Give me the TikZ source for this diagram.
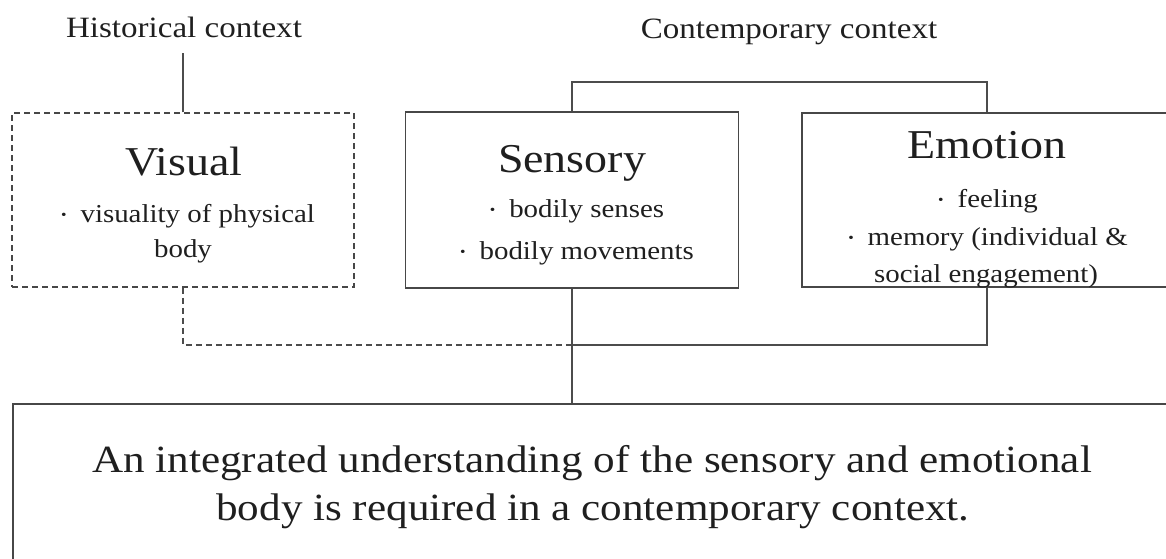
\documentclass[tikz,border=0pt]{standalone}
\usepackage{fontspec}
\setmainfont{Liberation Serif}[FakeStretch=1.12]
\newcommand\bul{\raisebox{0.22ex}{\fontsize{14}{14}\selectfont\textbullet}\hspace{14pt}}
\begin{document}
\begin{tikzpicture}[x=1pt,y=-1pt,
  box/.style={draw=black!72, line width=1.8pt, inner sep=0pt},
  dbox/.style={box, line width=1.5pt, dash pattern=on 6pt off 4pt},
  conn/.style={draw=black!70, line width=1.7pt},
  dconn/.style={conn, line width=1.4pt, dash pattern=on 6pt off 4pt},
  txt/.style={inner sep=0pt, text=black!88, anchor=base},
  ctx/.style={txt, font=\fontsize{29.5}{32}\selectfont},
  ttl/.style={txt, font=\fontsize{41}{44}\selectfont},
  itm/.style={txt, font=\fontsize{25.8}{28}\selectfont},
  big/.style={txt, font=\fontsize{38.5}{42}\selectfont}]
\useasboundingbox (0,0) rectangle (1166,558);
% context labels
\node[ctx, inner ysep=16pt] (hist) at (184,37) {Historical context};
\node[ctx] (cont) at (789,38) {Contemporary context};
% boxes
\node[dbox, minimum width=342pt, minimum height=174pt] (vis) at (183,200) {};
\node[box, minimum width=333pt, minimum height=176pt] (sens) at (572,200) {};
\node[box, minimum width=370pt, minimum height=174pt] (emo) at (987,200) {};
\node[box, minimum width=1158pt, minimum height=186pt] (bot) at (592,497) {};
% box texts
\node[ttl] (vist) at (184,175) {Visual};
\node[itm] (visa) at (188,222) {\bul visuality of physical};
\node[itm] (visb) at (183,257) {body};
\node[ttl] (senst) at (572,172) {Sensory};
\node[itm] (sensa) at (577,217) {\bul bodily senses};
\node[itm] (sensb) at (577,259) {\bul bodily movements};
\node[ttl] (emot) at (987,158) {Emotion};
\node[itm] (emoa) at (988,207) {\bul feeling};
\node[itm] (emob) at (988,245) {\bul memory (individual \&};
\node[itm] (emoc) at (986,282) {social engagement)};
\node[big] (bota) at (592,472) {An integrated understanding of the sensory and emotional};
\node[big] (botb) at (593,520) {body is required in a contemporary context.};
% connectors
\coordinate (cbar) at (0,82);
\coordinate (cjoin) at (0,345);
\draw[conn] (vis.north) -- (vis.north |- hist.south);
\draw[conn] (sens.north) -- (sens.north |- cbar) -| (emo.north);
\draw[dconn] (vis.south) -- (vis.south |- cjoin) -- (sens.south |- cjoin);
\draw[conn] (emo.south) -- (emo.south |- cjoin) -- (sens.south |- cjoin);
\draw[conn] (sens.south) -- (sens.south |- bot.north);
\end{tikzpicture}
\end{document}
